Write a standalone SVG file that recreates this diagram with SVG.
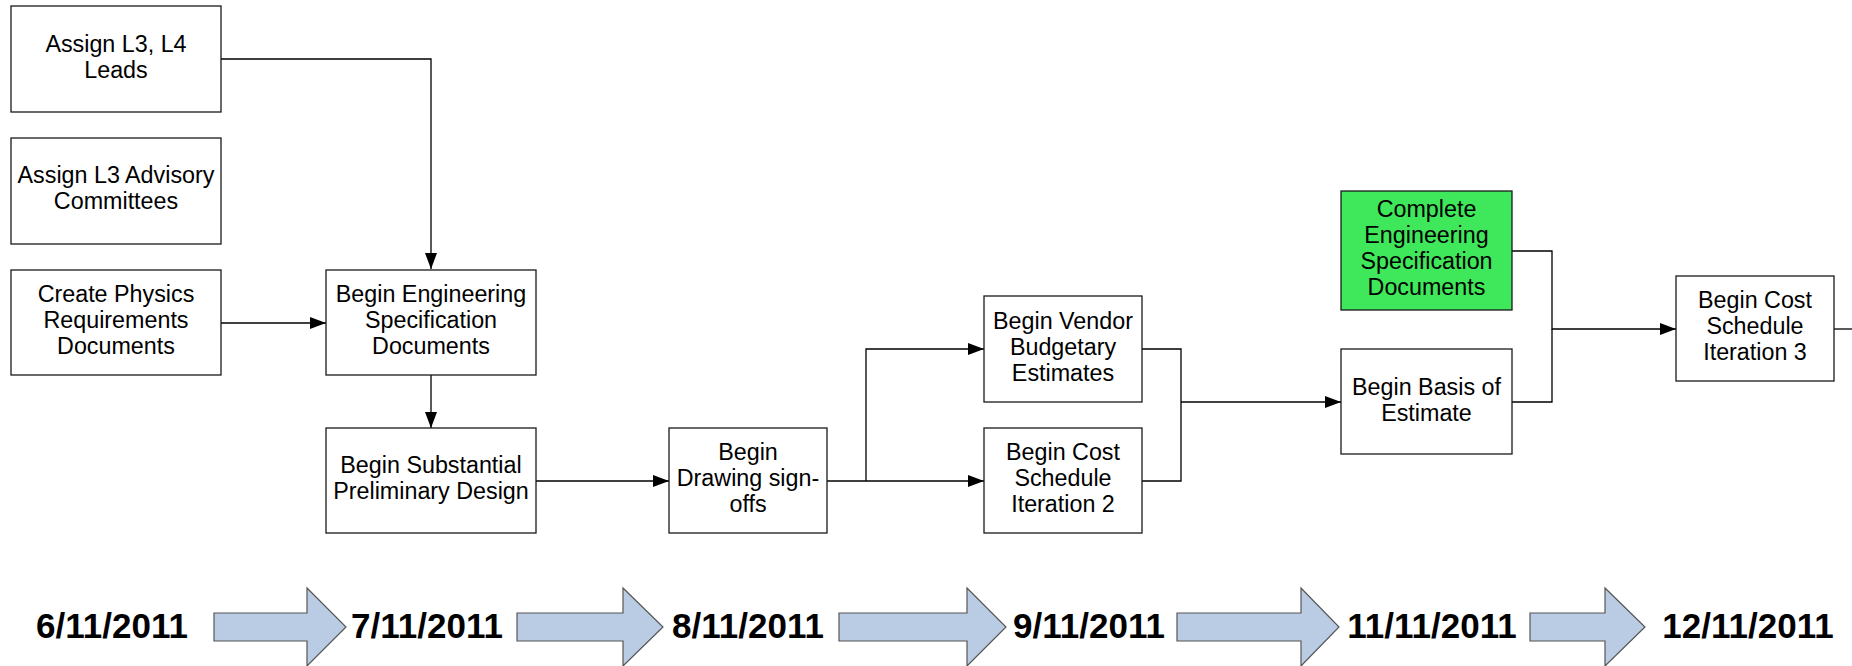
<svg xmlns="http://www.w3.org/2000/svg" width="1852" height="666" viewBox="0 0 1852 666">
<style>
.box{fill:#ffffff;stroke:#1a1a1a;stroke-width:1.3}
.green{fill:#3ee85a;stroke:#1a1a1a;stroke-width:1.3}
.t{font-family:"Liberation Sans",Arial,sans-serif;font-size:23.3px;fill:#000;text-anchor:middle}
.d{font-family:"Liberation Sans",Arial,sans-serif;font-size:35px;font-weight:bold;fill:#000;text-anchor:middle}
.c{fill:none;stroke:#000;stroke-width:1.3}
.ta{fill:#b9cce3;stroke:#555;stroke-width:1.2}
</style>
<defs>
<marker id="ah" markerWidth="16" markerHeight="12" refX="16" refY="6" orient="auto" markerUnits="userSpaceOnUse">
<path d="M0,0 L16,6 L0,12 Z" fill="#000"/>
</marker>
</defs>
<rect width="1852" height="666" fill="#fff"/>
<g id="connectors">
<path class="c" d="M221,59 H431 V269" marker-end="url(#ah)"/>
<path class="c" d="M221,323 H326" marker-end="url(#ah)"/>
<path class="c" d="M431,375 V428" marker-end="url(#ah)"/>
<path class="c" d="M536,481 H669" marker-end="url(#ah)"/>
<path class="c" d="M827,481 H984" marker-end="url(#ah)"/>
<path class="c" d="M866,481 V349 H984" marker-end="url(#ah)"/>
<path class="c" d="M1142,349 H1181 V481 H1142"/>
<path class="c" d="M1181,402 H1341" marker-end="url(#ah)"/>
<path class="c" d="M1512,402 H1552 V329"/>
<path class="c" d="M1512,251 H1552 V329 H1676" marker-end="url(#ah)"/>
<path class="c" d="M1834,329 H1852"/>
</g>
<g id="n1"><rect class="box" x="11" y="6" width="210" height="106"/><text class="t" x="116" y="52">Assign L3, L4</text><text class="t" x="116" y="78">Leads</text></g>
<g id="n2"><rect class="box" x="11" y="138" width="210" height="106"/><text class="t" x="116" y="183">Assign L3 Advisory</text><text class="t" x="116" y="209">Committees</text></g>
<g id="n3"><rect class="box" x="11" y="270" width="210" height="105"/><text class="t" x="116" y="302">Create Physics</text><text class="t" x="116" y="328">Requirements</text><text class="t" x="116" y="354">Documents</text></g>
<g id="n4"><rect class="box" x="326" y="270" width="210" height="105"/><text class="t" x="431" y="302">Begin Engineering</text><text class="t" x="431" y="328">Specification</text><text class="t" x="431" y="354">Documents</text></g>
<g id="n5"><rect class="box" x="326" y="428" width="210" height="105"/><text class="t" x="431" y="473">Begin Substantial</text><text class="t" x="431" y="499">Preliminary Design</text></g>
<g id="n6"><rect class="box" x="669" y="428" width="158" height="105"/><text class="t" x="748" y="460">Begin</text><text class="t" x="748" y="486">Drawing sign-</text><text class="t" x="748" y="512">offs</text></g>
<g id="n7"><rect class="box" x="984" y="296" width="158" height="106"/><text class="t" x="1063" y="329">Begin Vendor</text><text class="t" x="1063" y="355">Budgetary</text><text class="t" x="1063" y="381">Estimates</text></g>
<g id="n8"><rect class="box" x="984" y="428" width="158" height="105"/><text class="t" x="1063" y="460">Begin Cost</text><text class="t" x="1063" y="486">Schedule</text><text class="t" x="1063" y="512">Iteration 2</text></g>
<g id="n9"><rect class="box" x="1341" y="349" width="171" height="105"/><text class="t" x="1426.500" y="395">Begin Basis of</text><text class="t" x="1426.500" y="421">Estimate</text></g>
<g id="n10"><rect class="green" x="1341" y="191" width="171" height="119"/><text class="t" x="1426.500" y="217">Complete</text><text class="t" x="1426.500" y="243">Engineering</text><text class="t" x="1426.500" y="269">Specification</text><text class="t" x="1426.500" y="295">Documents</text></g>
<g id="n11"><rect class="box" x="1676" y="276" width="158" height="105"/><text class="t" x="1755" y="308">Begin Cost</text><text class="t" x="1755" y="334">Schedule</text><text class="t" x="1755" y="360">Iteration 3</text></g>
<g id="timeline">
<text class="d" x="112" y="638">6/11/2011</text>
<text class="d" x="427" y="638">7/11/2011</text>
<text class="d" x="748" y="638">8/11/2011</text>
<text class="d" x="1089" y="638">9/11/2011</text>
<text class="d" x="1432" y="638">11/11/2011</text>
<text class="d" x="1748" y="638">12/11/2011</text>
<path class="ta" d="M214,613 H307 V588 L346,627 L307,666 V641 H214 Z"/>
<path class="ta" d="M517,613 H623 V588 L663,627 L623,666 V641 H517 Z"/>
<path class="ta" d="M839,613 H967 V588 L1006,627 L967,666 V641 H839 Z"/>
<path class="ta" d="M1177,613 H1301 V588 L1339,627 L1301,666 V641 H1177 Z"/>
<path class="ta" d="M1530,613 H1605 V588 L1645,627 L1605,666 V641 H1530 Z"/>
</g>
</svg>
